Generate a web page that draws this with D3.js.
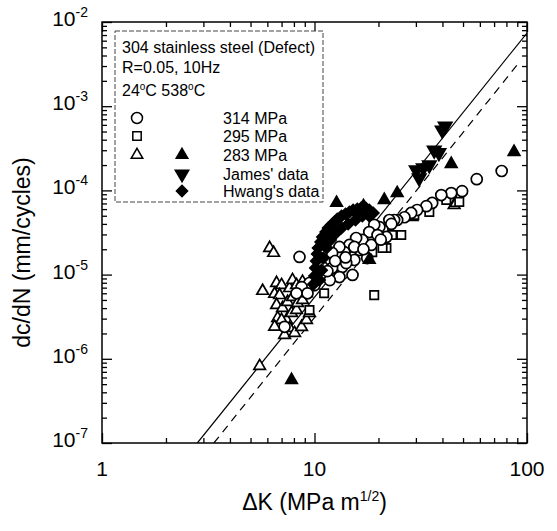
<!DOCTYPE html>
<html>
<head>
<meta charset="utf-8">
<script src="https://cdn.jsdelivr.net/npm/d3@7"></script>
<style>
body { margin: 0; background: #fff; }
text { font-family: Arial, "Liberation Sans", sans-serif; fill: #000; }
</style>
</head>
<body>
<svg width="557" height="531"></svg>
<script>
// ---- data: [deltaK (MPa m^1/2), dc/dN (mm/cycle)] ----
var open314 = [
  [76, 1.7e-4], [58, 1.36e-4], [49.5, 9.8e-5], [44, 9.3e-5], [39.5, 8.8e-5],
  [35.8, 7.1e-5], [33.6, 6.5e-5], [30.4, 5.85e-5], [28.5, 5.4e-5], [26.5, 4.8e-5],
  [24.5, 4.45e-5], [23.7, 4.45e-5], [22.5, 4.45e-5], [23, 4.0e-5], [20.9, 3.4e-5],
  [21.8, 2.8e-5], [20.2, 3.67e-5], [19.1, 3.9e-5], [18.1, 3.2e-5], [19.8, 2.95e-5],
  [16.8, 2.58e-5], [15.7, 2.72e-5], [18.5, 2.25e-5], [16.3, 1.96e-5], [14.6, 2.25e-5],
  [15.4, 2.13e-5], [13.8, 1.85e-5], [17.7, 1.57e-5], [15.4, 1.49e-5], [12.8, 1.71e-5],
  [13.1, 2.13e-5], [12.1, 1.81e-5], [13.5, 1.23e-5], [14.1, 1.37e-5], [15.1, 9.9e-6],
  [13.1, 9.35e-6], [12.1, 1.2e-5], [10.9, 1.23e-5], [11.1, 9.9e-6], [11.8, 8.6e-6],
  [10.0, 7.5e-6], [9.47, 7.95e-6], [8.5, 1.62e-5], [8.7, 7.1e-6], [9.27, 6.0e-6],
  [8.23, 6.0e-6], [7.23, 2.4e-6], [17.0, 2.0e-5], [14.0, 1.6e-5], [12.5, 1.45e-5],
  [11.5, 1.1e-5], [20.5, 2.6e-5]
];
var open295 = [
  [48, 7.3e-5], [41.7, 7.7e-5], [34.7, 5.54e-5], [29.5, 5.1e-5], [25.6, 2.95e-5],
  [23.2, 2.95e-5], [21.8, 2.07e-5], [20.9, 2.07e-5], [18.7, 1.85e-5], [19.1, 5.7e-6],
  [11.1, 6.0e-6], [9.47, 3.8e-6]
];
var open283 = [
  [6.15, 2.07e-5], [6.42, 1.81e-5], [5.7, 6.4e-6], [6.63, 7.95e-6], [7.0, 7.5e-6],
  [6.49, 5.9e-6], [6.85, 5.7e-6], [6.63, 4.36e-6], [7.07, 4.0e-6], [6.71, 3.05e-6],
  [7.39, 2.89e-6], [7.8, 3.5e-6], [8.23, 3.8e-6], [7.47, 4.73e-6], [7.88, 5.4e-6],
  [8.32, 4.6e-6], [8.78, 5.0e-6], [9.17, 6.0e-6], [7.63, 2.32e-6], [7.23, 1.92e-6],
  [8.06, 2.02e-6], [8.69, 2.39e-6], [9.17, 2.89e-6], [9.47, 3.5e-6], [7.0, 2.89e-6],
  [6.49, 2.4e-6], [5.52, 8.2e-7], [7.63, 6.9e-6], [7.88, 8.6e-6], [8.23, 7.5e-6],
  [8.78, 8.2e-6], [9.47, 7.1e-6], [45.4, 6.7e-5], [46.4, 7.1e-5], [28.8, 4.83e-5]
];
var filled283 = [
  [86.9, 2.86e-4], [44, 2.06e-4], [24.5, 9.3e-5], [21.3, 7.7e-5], [12.7, 7.1e-5],
  [17, 6.5e-5], [7.8, 5.6e-7], [18.1, 1.5e-5]
];
var jamesData = [
  [41.2, 5.8e-4], [39.9, 5.2e-4], [36.6, 3.0e-4], [38.5, 2.8e-4], [34.7, 2.0e-4],
  [30.1, 1.75e-4], [31.1, 1.4e-4], [32.5, 1.85e-4]
];
var hwangData = [
  [9.89, 7.7e-6], [10.0, 9.6e-6], [10.1, 1.2e-5], [10.2, 1.45e-5], [10.3, 1.76e-5],
  [10.4, 2.07e-5], [10.7, 2.44e-5], [10.9, 2.8e-5], [11.3, 3.2e-5], [11.6, 3.57e-5],
  [12.0, 3.88e-5], [12.4, 4.2e-5], [12.8, 4.57e-5], [13.4, 4.97e-5], [14.0, 5.25e-5],
  [14.6, 5.54e-5], [15.2, 5.85e-5], [15.9, 6.0e-5], [16.6, 6.2e-5], [17.4, 6.2e-5],
  [18.1, 5.85e-5], [18.9, 5.4e-5],
  [10.56, 8.6e-6], [10.8, 1.13e-5], [11.0, 1.57e-5], [11.4, 2.07e-5], [11.9, 2.58e-5],
  [12.5, 3.03e-5], [13.4, 3.57e-5], [14.4, 4.0e-5], [15.6, 4.45e-5], [16.8, 4.97e-5],
  [18.1, 4.97e-5]
];
// fitted lines (end points)
var solidLine = [[2.81, 1e-7], [100, 7.4e-3]];
var dashedLine = [[3.36, 1e-7], [90, 3.1e-3]];

// axes
var xMajor = [1, 10, 100];
var yExponents = [-7, -6, -5, -4, -3, -2];
var legendHeader = ["304 stainless steel (Defect)", "R=0.05, 10Hz"];
var legendLabels = ["314 MPa", "295 MPa", "283 MPa", "James' data", "Hwang's data"];
var legendOpen = ["circle", "square", "triangle", null, null];
var legendFilled = [null, null, "triangle", "down", "diamond"];

// ---- layout ----
var margin = { top: 22, right: 30, bottom: 88, left: 102 };
var width = 557 - margin.left - margin.right;
var height = 531 - margin.top - margin.bottom;

var svg = d3.select("svg");
var g = svg.append("g")
    .attr("transform", "translate(" + margin.left + "," + margin.top + ")");

var xScale = d3.scaleLog().domain([1, 100]).range([0, width]);
var yScale = d3.scaleLog().domain([1e-7, 1e-2]).range([height, 0]);

var xMinor = [];
[1, 10].forEach(function(d) { for (var i = 2; i <= 9; i++) xMinor.push(d * i); });
var yMajor = yExponents.map(function(e) { return Math.pow(10, e); });
var yMinor = [];
yExponents.slice(0, -1).forEach(function(e) {
    for (var i = 2; i <= 9; i++) yMinor.push(i * Math.pow(10, e));
});

// ticks, all pointing inward
function tickAxis(axisFn, scale, values, size, transform) {
    var a = g.append("g")
        .attr("class", "axis")
        .attr("transform", transform)
        .call(axisFn(scale).tickValues(values).tickSize(size).tickSizeOuter(0).tickFormat(""));
    a.select(".domain").remove();
    a.selectAll("line").attr("stroke", "#000").attr("stroke-width", 1.3);
    return a;
}
tickAxis(d3.axisBottom, xScale, xMajor, -10, "translate(0," + height + ")");
tickAxis(d3.axisBottom, xScale, xMinor, -5, "translate(0," + height + ")");
tickAxis(d3.axisTop, xScale, xMajor, -10, "translate(0,0)");
tickAxis(d3.axisTop, xScale, xMinor, -5, "translate(0,0)");
tickAxis(d3.axisLeft, yScale, yMajor, -10, "translate(0,0)");
tickAxis(d3.axisLeft, yScale, yMinor, -5, "translate(0,0)");
tickAxis(d3.axisRight, yScale, yMajor, -10, "translate(" + width + ",0)");
tickAxis(d3.axisRight, yScale, yMinor, -5, "translate(" + width + ",0)");

// frame
g.append("rect")
    .attr("width", width)
    .attr("height", height)
    .attr("fill", "none")
    .attr("stroke", "#000")
    .attr("stroke-width", 1.5);

// x tick labels
g.selectAll(".xlab")
    .data(xMajor)
    .enter().append("text")
    .attr("class", "xlab")
    .attr("x", function(d) { return xScale(d); })
    .attr("y", height + 33)
    .attr("text-anchor", "middle")
    .attr("font-size", "21px")
    .text(function(d) { return d; });

// y tick labels: 10 with superscript exponent
var ylab = g.selectAll(".ylab")
    .data(yExponents)
    .enter().append("text")
    .attr("class", "ylab")
    .attr("x", -14)
    .attr("y", function(d) { return yScale(Math.pow(10, d)) + 4; })
    .attr("text-anchor", "end")
    .attr("font-size", "21px");
ylab.append("tspan").text("10");
ylab.append("tspan")
    .attr("dy", -9)
    .attr("font-size", "14px")
    .text(function(d) { return "-" + Math.abs(d); });

// axis titles
var xt = g.append("text")
    .attr("x", width / 2)
    .attr("y", height + 67)
    .attr("text-anchor", "middle")
    .attr("font-size", "23px");
xt.append("tspan").text("\u0394K (MPa m");
xt.append("tspan").attr("dy", -9).attr("font-size", "14px").text("1/2");
xt.append("tspan").attr("dy", 9).text(")");

g.append("text")
    .attr("transform", "translate(-72," + (height / 2 + 20) + ") rotate(-90)")
    .attr("text-anchor", "middle")
    .attr("font-size", "23px")
    .attr("fill", "#222")
    .text("dc/dN (mm/cycles)");

// clip for lines
g.append("clipPath").attr("id", "plotclip")
    .append("rect").attr("width", width).attr("height", height);

var line = d3.line()
    .x(function(d) { return xScale(d[0]); })
    .y(function(d) { return yScale(d[1]); });

g.append("path")
    .datum(solidLine)
    .attr("clip-path", "url(#plotclip)")
    .attr("fill", "none")
    .attr("stroke", "#000")
    .attr("stroke-width", 1.2)
    .attr("d", line);

g.append("path")
    .datum(dashedLine)
    .attr("clip-path", "url(#plotclip)")
    .attr("fill", "none")
    .attr("stroke", "#000")
    .attr("stroke-width", 1.2)
    .attr("stroke-dasharray", "8,6")
    .attr("d", line);

// symbols
var symbolPaths = {
    circle: d3.symbol().type(d3.symbolCircle).size(95)(),
    square: d3.symbol().type(d3.symbolSquare).size(70)(),
    triangle: d3.symbol().type(d3.symbolTriangle).size(58)(),
    down: d3.symbol().type(d3.symbolTriangle).size(78)(),
    diamond: d3.symbol().type(d3.symbolSquare).size(62)()
};
var symbolRotate = { circle: 0, square: 0, triangle: 0, down: 180, diamond: 45 };

function drawSeries(data, type, filled) {
    g.append("g").selectAll("path")
        .data(data)
        .enter().append("path")
        .attr("d", symbolPaths[type])
        .attr("transform", function(d) {
            return "translate(" + xScale(d[0]) + "," + yScale(d[1]) + ") rotate(" + symbolRotate[type] + ")";
        })
        .attr("fill", filled ? "#000" : "#fff")
        .attr("stroke", "#000")
        .attr("stroke-width", 1.7);
}

drawSeries(open283, "triangle", false);
drawSeries(open295, "square", false);
drawSeries(open314, "circle", false);
drawSeries(filled283, "triangle", true);
drawSeries(jamesData, "down", true);
drawSeries(hwangData, "diamond", true);

// legend box
var leg = svg.append("g").attr("transform", "translate(115,31)");
leg.append("rect")
    .attr("width", 208)
    .attr("height", 171)
    .attr("fill", "#fff")
    .attr("stroke", "#444")
    .attr("stroke-width", 1)
    .attr("stroke-dasharray", "5,2");

leg.selectAll(".hdr")
    .data(legendHeader)
    .enter().append("text")
    .attr("x", 7)
    .attr("y", function(d, i) { return 22 + i * 20; })
    .attr("font-size", "16px")
    .text(function(d) { return d; });

var temp = leg.append("text")
    .attr("x", 7)
    .attr("y", 65)
    .attr("font-size", "16px");
temp.append("tspan").text("24");
temp.append("tspan").attr("dy", -6).attr("font-size", "10px").text("o");
temp.append("tspan").attr("dy", 6).text("C 538");
temp.append("tspan").attr("dy", -6).attr("font-size", "10px").text("o");
temp.append("tspan").attr("dy", 6).text("C");

var rowY = [87, 105, 124, 143, 160];
legendLabels.forEach(function(lab, i) {
    leg.append("text")
        .attr("x", 108)
        .attr("y", rowY[i] + 6)
        .attr("font-size", "16px")
        .text(lab);
    if (legendOpen[i]) {
        leg.append("path")
            .attr("d", symbolPaths[legendOpen[i]])
            .attr("transform", "translate(22," + rowY[i] + ") rotate(" + symbolRotate[legendOpen[i]] + ")")
            .attr("fill", "#fff").attr("stroke", "#000").attr("stroke-width", 1.5);
    }
    if (legendFilled[i]) {
        leg.append("path")
            .attr("d", symbolPaths[legendFilled[i]])
            .attr("transform", "translate(67," + rowY[i] + ") rotate(" + symbolRotate[legendFilled[i]] + ")")
            .attr("fill", "#000").attr("stroke", "#000").attr("stroke-width", 1.5);
    }
});
</script>
</body>
</html>
